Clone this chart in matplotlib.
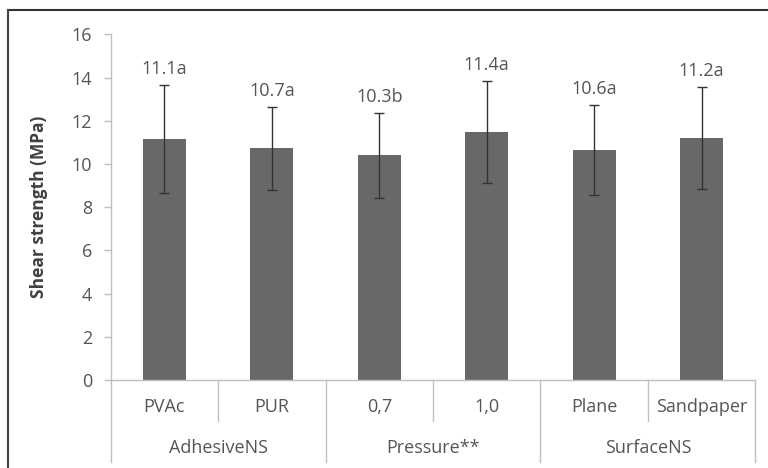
import matplotlib
matplotlib.use("Agg")
import matplotlib.pyplot as plt
from matplotlib.lines import Line2D
import matplotlib.transforms as mtransforms

categories = ['PVAc', 'PUR', '0,7', '1,0', 'Plane', 'Sandpaper']
groups = ['AdhesiveNS', 'Pressure**', 'SurfaceNS']
group_sizes = [2, 2, 2]
means = [11.15, 10.72, 10.40, 11.48, 10.63, 11.20]
errors = [2.50, 1.92, 1.96, 2.35, 2.08, 2.36]
value_labels = ['11.1a', '10.7a', '10.3b', '11.4a', '10.6a', '11.2a']
yticks = [0, 2, 4, 6, 8, 10, 12, 14, 16]

plt.rcParams['font.family'] = ['Open Sans', 'DejaVu Sans']
W, H = 768, 468
fig = plt.figure(figsize=(W / 100, H / 100), dpi=100)
ax_left, ax_right, ax_bottom, ax_top = 110.7, 755.3, 380, 34.3
ax = fig.add_axes([ax_left / W, (H - ax_bottom) / H, (ax_right - ax_left) / W, (ax_bottom - ax_top) / H])

text_c = '#555555'
axis_c = '#bfbfbf'
fs = 13
x = list(range(len(categories)))
ax.bar(x, means, width=0.4, color='#686868', zorder=2)
ax.errorbar(x, means, yerr=errors, fmt='none', ecolor='#333333', elinewidth=1.0,
            capsize=3.8, capthick=1.0, zorder=3)
for xi, m, e, lab in zip(x, means, errors, value_labels):
    ax.annotate(lab, (xi, m + e), xytext=(0, 5), textcoords='offset points',
                ha='center', va='bottom', fontsize=fs, color=text_c)

ax.set_xlim(-0.5, len(categories) - 0.5)
ax.set_ylim(0, 16)
ax.set_yticks(yticks)
ax.set_yticklabels([str(t) for t in yticks], fontsize=fs, color=text_c)
ax.tick_params(axis='y', direction='out', length=5.3, width=1, color=axis_c, pad=8)
ax.set_xticks([])
for s in ['top', 'right']:
    ax.spines[s].set_visible(False)
ax.spines['left'].set_color(axis_c)
ax.spines['bottom'].set_color(axis_c)
ax.spines['left'].set_linewidth(1)
ax.spines['bottom'].set_linewidth(1)
ax.set_ylabel('Shear strength (MPa)', fontsize=12.5, fontweight='bold', color='#404040')
axw = ax_right - ax_left
axh = ax_bottom - ax_top
ax.yaxis.set_label_coords(-(ax_left - 48) / axw, 0.5)

# multi-level category axis
trans = mtransforms.blended_transform_factory(ax.transData, ax.transAxes)
short_y = -(421 - ax_bottom) / axh
long_y = -(462 - ax_bottom) / axh
lab_y = -(406.7 - ax_bottom) / axh
grp_y = -(448 - ax_bottom) / axh
for xi, c in zip(x, categories):
    ax.text(xi, lab_y, c, transform=trans, ha='center', va='center', fontsize=fs, color=text_c)
pos = 0
bounds = [-0.5]
for g, n in zip(groups, group_sizes):
    ax.text(pos + (n - 1) / 2, grp_y, g, transform=trans, ha='center', va='center', fontsize=fs, color=text_c)
    for k in range(1, n):
        xb = pos + k - 0.5
        ax.add_line(Line2D([xb, xb], [0, short_y], transform=trans, color=axis_c, lw=1, clip_on=False))
    pos += n
    bounds.append(pos - 0.5)
for xb in bounds:
    ax.add_line(Line2D([xb, xb], [0, long_y], transform=trans, color=axis_c, lw=1, clip_on=False))

# outer frame
fig.add_artist(Line2D([8 / W, 1], [1 - 10 / H, 1 - 10 / H], transform=fig.transFigure, color='#333333', lw=1.5))
fig.add_artist(Line2D([8 / W, 8 / W], [1 - 10 / H, 0], transform=fig.transFigure, color='#444444', lw=1.5))

fig.savefig('out.png', dpi=100)
